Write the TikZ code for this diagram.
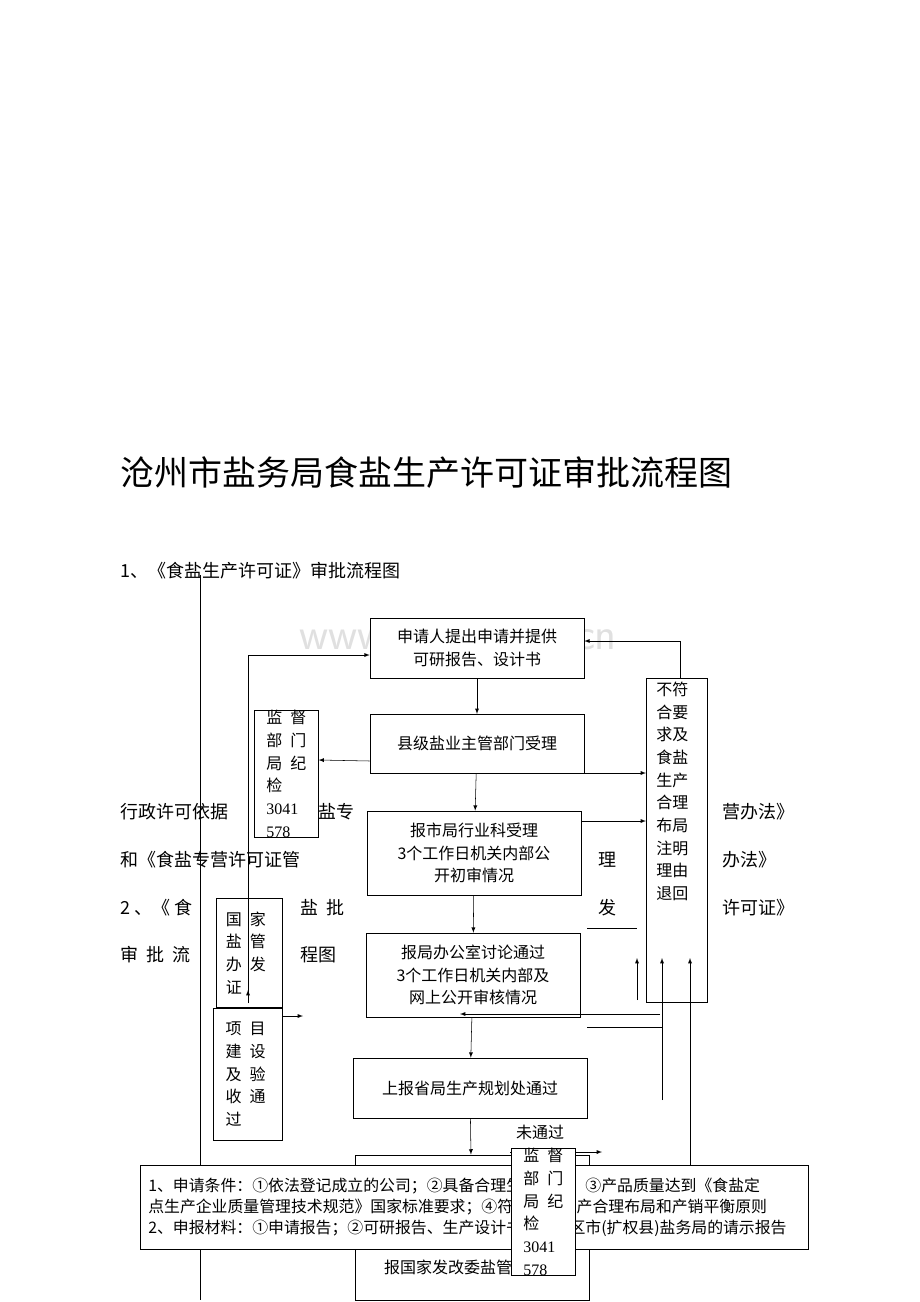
\documentclass[tikz,border=0pt]{standalone}
\usepackage{fontspec}
\setmainfont{Liberation Serif}
\newfontfamily\cjk{Noto Sans CJK SC}
\usetikzlibrary{arrows, positioning}

\begin{document}
\begin{tikzpicture}[x=0.75pt, y=-0.75pt,
    box/.style={draw, fill=white, align=center, inner sep=0pt, font=\cjk\fontsize{12}{17}\selectfont},
    vbox/.style={draw, fill=white, align=left, inner sep=0pt, anchor=north west, text width=#1, font=\cjk\fontsize{12}{17}\selectfont},
    bgtext/.style={anchor=west, inner sep=0pt, font=\cjk\fontsize{13.5}{16}\selectfont},
    arrow/.style={-latex, thin, >=latex, shorten >=0pt, arrows={-latex[scale=1.6]}}
]
    \useasboundingbox (0,0) rectangle (920,1302);

    % heading
    \node[anchor=west, inner sep=0pt, font=\cjk\fontsize{25.5}{30}\selectfont] (title) at (120,473) {沧州市盐务局食盐生产许可证审批流程图};
    \node[bgtext] (sub) at (120,571) {1、《食盐生产许可证》审批流程图};
    \node[font=\sffamily\fontsize{34}{36}\selectfont, text=black!12] (mark) at (458,635) {www.zixin.com.cn};

    % text behind the chart
    \node[bgtext] (t1) at (120,812) {行政许可依据};
    \node[bgtext] (t1b) at (318,812) {盐专};
    \node[bgtext] (t1c) at (722,812) {营办法》};
    \node[bgtext] (t2) at (120,860) {和《食盐专营许可证管};
    \node[bgtext] (t2b) at (598,860) {理};
    \node[bgtext] (t2c) at (722,860) {办法》};
    \node[bgtext] (t3) at (120,908) {2 、《 食};
    \node[bgtext] (t3b) at (300,908) {盐\hspace{6pt}批};
    \node[bgtext] (t3c) at (598,908) {发};
    \node[bgtext] (t3d) at (722,908) {许可证》};
    \node[bgtext] (t4) at (120,955) {审\hspace{6pt}批\hspace{6pt}流};
    \node[bgtext] (t4b) at (300,955) {程图};
    \coordinate (ul1) at (587,928);
    \coordinate (ul2) at (637,928);
    \draw (ul1) -- (ul2);

    % long side line
    \coordinate (sideT) at (200,575);
    \coordinate (sideB) at (200,1300);
    \draw (sideT) -- (sideB);

    % main chain
    \node[box, minimum width=160.5pt, minimum height=45pt] (apply) at (477,648) {申请人提出申请并提供\\可研报告、设计书};
    \node[box, minimum width=160.5pt, minimum height=44pt] (county) at (477,743.5) {县级盐业主管部门受理};
    \node[box, minimum width=160.5pt, minimum height=63pt] (city) at (474,853) {报市局行业科受理\\3个工作日机关内部公\\开初审情况};
    \node[box, minimum width=160.5pt, minimum height=63pt] (office) at (473,975) {报局办公室讨论通过\\3个工作日机关内部及\\网上公开审核情况};
    \node[box, minimum width=175.5pt, minimum height=45pt] (prov) at (470,1088) {上报省局生产规划处通过};
    \node[box, minimum width=175.5pt, minimum height=109pt, text depth=0pt] (nation) at (472,1227.5) {\\[52pt]报国家发改委盐管办通过};

    % side boxes
    \node[vbox=45pt, minimum width=46pt, minimum height=243pt] (reject) at (646,678) {\rule{0pt}{13pt}\hspace{7pt}不符\\\hspace{7pt}合要\\\hspace{7pt}求及\\\hspace{7pt}食盐\\\hspace{7pt}生产\\\hspace{7pt}合理\\\hspace{7pt}布局\\\hspace{7pt}注明\\\hspace{7pt}理由\\\hspace{7pt}退回\\[60pt]\mbox{}};
    \node[vbox=48pt, minimum width=48pt, minimum height=86pt] (watch) at (254,710) {\hspace{9pt}监\hspace{6pt}督\\\hspace{9pt}部\hspace{6pt}门\\\hspace{9pt}局\hspace{6pt}纪\\\hspace{9pt}检\\\hspace{9pt}\rmfamily 3041\\\hspace{9pt}\rmfamily 578};
    \node[vbox=49pt, minimum width=49.5pt, minimum height=82pt] (licence) at (216,898) {\hspace{7pt}国\hspace{6pt}家\\\hspace{7pt}盐\hspace{6pt}管\\\hspace{7pt}办\hspace{6pt}发\\\hspace{7pt}证};
    \node[vbox=51pt, minimum width=51.5pt, minimum height=99pt] (project) at (213,1008) {\hspace{9pt}项\hspace{6pt}目\\\hspace{9pt}建\hspace{6pt}设\\\hspace{9pt}及\hspace{6pt}验\\\hspace{9pt}收\hspace{6pt}通\\\hspace{9pt}过};

    % connectors
    \draw[arrow] (apply) -- (county);
    \draw[arrow] (county) -- (city);
    \draw[arrow] (city) -- (office);
    \draw[arrow] (office) -- (prov);
    \draw[arrow] (prov) -- (nation);
    \draw[arrow] (county.west |- 0,761) -- (watch.east |- 0,760);
    \coordinate (upB) at (248,1003);
    \coordinate (upM) at (248,990);
    \coordinate (upT) at (248,655);
    \draw (upB) -- (upT);
    \draw[arrow] (upB) -- (upM);
    \draw[arrow] (upT) -- (apply.west |- upT);
    \draw[arrow] (county.east |- 0,773) -- (reject.west |- 0,773);
    \draw[arrow] (city.east |- 0,821) -- (reject.west |- 0,821);
    \coordinate (hOut) at (303,1016);
    \draw[arrow] (project.north east |- hOut) -- (hOut);
    \coordinate (rTop) at (680,641);
    \draw (reject.north -| rTop) -- (rTop);
    \draw[arrow] (rTop) -- (apply.east |- rTop);
    \foreach \xx/\yy in {637/1000, 662/1100, 690/1245}
        \draw[arrow] (\xx,\yy) -- (\xx,958);
    \coordinate (back1) at (587,1027);
    \draw (back1) -- (662,1027);
    \draw[arrow] (660,1014) -- (460,1014);
    \coordinate (failA) at (510,1152);
    \coordinate (failB) at (602,1152);
    \draw[arrow] (failA) -- (failB);
    \node[font=\cjk\fontsize{12}{14}\selectfont, anchor=south] (failLbl) at (540,1144) {未通过};

    % notes
    \node[draw, fill=white, anchor=north west, inner sep=0pt, minimum width=501pt, minimum height=63pt, align=left, text width=501pt, font=\cjk\fontsize{11.9}{15.5}\selectfont] (notes) at (140,1165)
        {\hspace{6pt}1、申请条件：①依法登记成立的公司；②具备合理生产规模；③产品质量达到《食盐定\\\hspace{6pt}点生产企业质量管理技术规范》国家标准要求；④符合食盐生产合理布局和产销平衡原则\\\hspace{6pt}2、申报材料：①申请报告；②可研报告、生产设计书；③设区市(扩权县)盐务局的请示报告};
    \node[vbox=48pt, minimum width=48pt, minimum height=93pt] (watch2) at (511,1148) {\hspace{9pt}监\hspace{6pt}督\\\hspace{9pt}部\hspace{6pt}门\\\hspace{9pt}局\hspace{6pt}纪\\\hspace{9pt}检\\\hspace{9pt}\rmfamily 3041\\\hspace{9pt}\rmfamily 578};
\end{tikzpicture}
\end{document}
